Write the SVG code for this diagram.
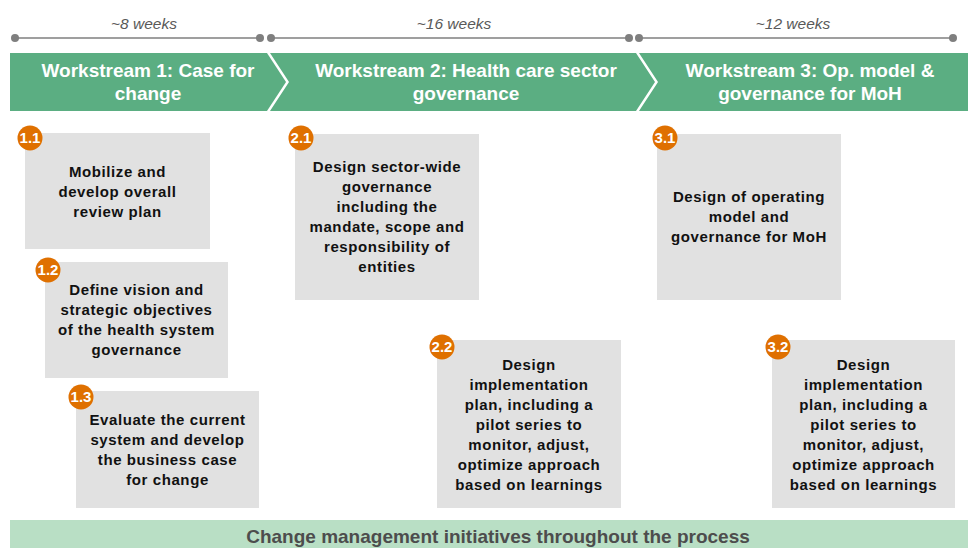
<svg xmlns="http://www.w3.org/2000/svg" width="968" height="548" viewBox="0 0 968 548">
<style>
.wk{font-family:"Liberation Sans",Arial,sans-serif;font-style:italic;font-size:15.5px;fill:#595959;text-anchor:middle}
.tl{stroke:#7f7f7f;stroke-width:1.5;fill:none}
.dot{fill:#7f7f7f}
.chev{fill:#5BAE82}
.ttl{font-family:"Liberation Sans",Arial,sans-serif;font-weight:bold;font-size:19px;fill:#ffffff;text-anchor:middle}
.box{fill:#E1E1E1}
.bt{font-family:"Liberation Sans",Arial,sans-serif;font-weight:bold;font-size:15px;letter-spacing:0.6px;fill:#111111;text-anchor:middle}
.badge{fill:#DF7000}
.bn{font-family:"Liberation Sans",Arial,sans-serif;font-weight:bold;font-size:15px;fill:#ffffff;text-anchor:middle}
.cm{fill:#B9DFC5}
.cmt{font-family:"Liberation Sans",Arial,sans-serif;font-weight:bold;font-size:19px;fill:#4d4d4d;text-anchor:middle}
</style>
<rect width="968" height="548" fill="#ffffff"/>
<g id="timeline">
<text class="wk" x="144" y="29">~8 weeks</text>
<text class="wk" x="454" y="29">~16 weeks</text>
<text class="wk" x="793" y="29">~12 weeks</text>
<line class="tl" x1="15" y1="38" x2="260" y2="38"/>
<line class="tl" x1="271" y1="38" x2="629" y2="38"/>
<line class="tl" x1="639" y1="38" x2="953" y2="38"/>
<circle class="dot" cx="15" cy="38" r="4"/>
<circle class="dot" cx="260" cy="38" r="4"/>
<circle class="dot" cx="271" cy="38" r="4"/>
<circle class="dot" cx="629" cy="38" r="4"/>
<circle class="dot" cx="639" cy="38" r="4"/>
<circle class="dot" cx="953" cy="38" r="4"/>
</g>
<g id="ws1">
<polygon class="chev" points="10,53 267,53 286,82 267,111 10,111"/>
<text class="ttl" x="148" y="77">Workstream 1: Case for</text>
<text class="ttl" x="148" y="100">change</text>
</g>
<g id="ws2">
<polygon class="chev" points="270,53 636,53 655,82 636,111 270,111 289,82"/>
<text class="ttl" x="466" y="77">Workstream 2: Health care sector</text>
<text class="ttl" x="466" y="100">governance</text>
</g>
<g id="ws3">
<polygon class="chev" points="639,53 968,53 968,111 639,111 658,82"/>
<text class="ttl" x="810" y="77">Workstream 3: Op. model &amp;</text>
<text class="ttl" x="810" y="100">governance for MoH</text>
</g>
<g id="connectors"></g>
<g id="n11">
<rect class="box" x="25" y="133" width="185" height="116"/>
<text class="bt" x="117.5" y="177">Mobilize and</text>
<text class="bt" x="117.5" y="197">develop overall</text>
<text class="bt" x="117.5" y="217">review plan</text>
<circle class="badge" cx="30" cy="138" r="12.5"/>
<text class="bn" x="30" y="143">1.1</text>
</g>
<g id="n12">
<rect class="box" x="45" y="262" width="183" height="116"/>
<text class="bt" x="136.5" y="295">Define vision and</text>
<text class="bt" x="136.5" y="315">strategic objectives</text>
<text class="bt" x="136.5" y="335">of the health system</text>
<text class="bt" x="136.5" y="355">governance</text>
<circle class="badge" cx="48" cy="270" r="12.5"/>
<text class="bn" x="48" y="275">1.2</text>
</g>
<g id="n13">
<rect class="box" x="76" y="391" width="183" height="117"/>
<text class="bt" x="167.5" y="425">Evaluate the current</text>
<text class="bt" x="167.5" y="445">system and develop</text>
<text class="bt" x="167.5" y="465">the business case</text>
<text class="bt" x="167.5" y="485">for change</text>
<circle class="badge" cx="81" cy="397" r="12.5"/>
<text class="bn" x="81" y="402">1.3</text>
</g>
<g id="n21">
<rect class="box" x="295" y="134" width="184" height="166"/>
<text class="bt" x="387" y="172">Design sector-wide</text>
<text class="bt" x="387" y="192">governance</text>
<text class="bt" x="387" y="212">including the</text>
<text class="bt" x="387" y="232">mandate, scope and</text>
<text class="bt" x="387" y="252">responsibility of</text>
<text class="bt" x="387" y="272">entities</text>
<circle class="badge" cx="301" cy="138" r="12.5"/>
<text class="bn" x="301" y="143">2.1</text>
</g>
<g id="n22">
<rect class="box" x="437" y="340" width="184" height="168"/>
<text class="bt" x="529" y="370">Design</text>
<text class="bt" x="529" y="390">implementation</text>
<text class="bt" x="529" y="410">plan, including a</text>
<text class="bt" x="529" y="430">pilot series to</text>
<text class="bt" x="529" y="450">monitor, adjust,</text>
<text class="bt" x="529" y="470">optimize approach</text>
<text class="bt" x="529" y="490">based on learnings</text>
<circle class="badge" cx="442" cy="347" r="12.5"/>
<text class="bn" x="442" y="352">2.2</text>
</g>
<g id="n31">
<rect class="box" x="657" y="134" width="184" height="166"/>
<text class="bt" x="749" y="202">Design of operating</text>
<text class="bt" x="749" y="222">model and</text>
<text class="bt" x="749" y="242">governance for MoH</text>
<circle class="badge" cx="665" cy="138" r="12.5"/>
<text class="bn" x="665" y="143">3.1</text>
</g>
<g id="n32">
<rect class="box" x="772" y="340" width="183" height="168"/>
<text class="bt" x="863.5" y="370">Design</text>
<text class="bt" x="863.5" y="390">implementation</text>
<text class="bt" x="863.5" y="410">plan, including a</text>
<text class="bt" x="863.5" y="430">pilot series to</text>
<text class="bt" x="863.5" y="450">monitor, adjust,</text>
<text class="bt" x="863.5" y="470">optimize approach</text>
<text class="bt" x="863.5" y="490">based on learnings</text>
<circle class="badge" cx="778" cy="347" r="12.5"/>
<text class="bn" x="778" y="352">3.2</text>
</g>
<g id="change">
<rect class="cm" x="10" y="520" width="958" height="28"/>
<text class="cmt" x="498" y="543">Change management initiatives throughout the process</text>
</g>
</svg>
